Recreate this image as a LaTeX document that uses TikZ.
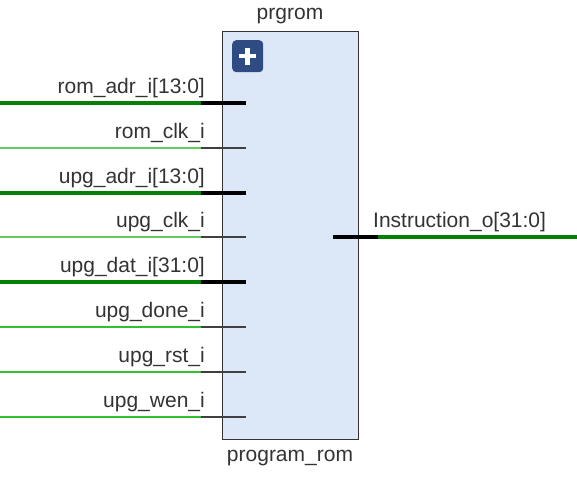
\documentclass[tikz,border=0pt]{standalone}
\usepackage{fontspec}
\setmainfont{Liberation Sans}
\usetikzlibrary{positioning}
\definecolor{busgreen}{HTML}{067F06}
\definecolor{clkgreen}{HTML}{62CC62}
\definecolor{siggreen}{HTML}{30C030}
\definecolor{blkfill}{HTML}{DCE8F7}
\definecolor{btnblue}{HTML}{2E4C82}
\definecolor{txtgray}{HTML}{333333}
\tikzset{%
  % block and labels
  blk/.style = {draw=txtgray, fill=blkfill, line width=1.4pt, inner sep=0pt,
                minimum width=136pt, minimum height=408pt},
  btn/.style = {fill=btnblue, rounded corners=4pt, inner sep=0pt,
                minimum width=31pt, minimum height=32pt},
  txt/.style = {text=txtgray, inner sep=0pt, font=\fontsize{21}{25}\selectfont},
  % wires and pin stubs
  wire bus/.style = {busgreen, line width=4pt},
  wire clk/.style = {clkgreen, line width=2pt},
  wire sig/.style = {siggreen, line width=2pt},
  stub bus/.style = {black, line width=4pt},
  stub clk/.style = {black!75, line width=2pt},
  stub sig/.style = {black!75, line width=2pt}
}
\begin{document}
\begin{tikzpicture}[x=1pt, y=-1pt]
  \useasboundingbox (0,0) rectangle (577,488);

  \node[blk, anchor=north west] (rom) at (222,31) {};
  \node[txt, anchor=base] (inst) at (290,19) {prgrom};
  \node[txt, anchor=base] (cell) at (290,461) {program\_rom};
  \node[btn, anchor=north west] (expand) at (232,40) {};
  \draw[white, line width=4.5pt] ([xshift=-8.5pt]expand.center) -- ([xshift=8.5pt]expand.center);
  \draw[white, line width=4.5pt] ([yshift=-8.5pt]expand.center) -- ([yshift=8.5pt]expand.center);

  % input pins
  \foreach \n/\t/\k [count=\i from 0] in {
      radr/{rom\_adr\_i[13:0]}/bus, rclk/{rom\_clk\_i}/clk,
      uadr/{upg\_adr\_i[13:0]}/bus, uclk/{upg\_clk\_i}/clk,
      udat/{upg\_dat\_i[31:0]}/bus, udone/{upg\_done\_i}/sig,
      urst/{upg\_rst\_i}/sig, uwen/{upg\_wen\_i}/sig}{
    \coordinate (\n-w) at (0,103+44.8*\i);
    \coordinate (\n-s) at (200.5,103+44.8*\i);
    \coordinate (\n-e) at (245.5,103+44.8*\i);
    \draw[wire \k] (\n-w) -- (\n-s);
    \draw[stub \k] (\n-s) -- (\n-e);
    \node[txt, anchor=base east] (\n-l) at ([xshift=4.5pt,yshift=9.5pt]\n-s) {\t};
  }

  % output pin
  \coordinate (iout-s) at (333,237.4);
  \coordinate (iout-e) at (378,237.4);
  \coordinate (iout-w) at (577,237.4);
  \draw[stub bus] (iout-s) -- (iout-e);
  \draw[wire bus] (iout-e) -- (iout-w);
  \node[txt, anchor=base west] (iout-l) at ([xshift=-5pt,yshift=10pt]iout-e) {Instruction\_o[31:0]};
\end{tikzpicture}
\end{document}
